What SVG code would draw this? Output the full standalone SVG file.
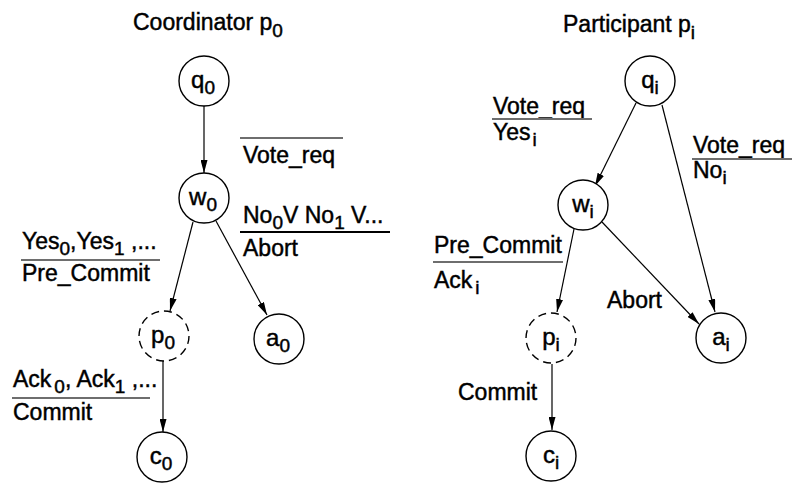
<svg xmlns="http://www.w3.org/2000/svg" width="792" height="485" viewBox="0 0 792 485">
  <style>
    text { font-family: "Liberation Sans", Arial, sans-serif; font-size: 23px; fill: #000; stroke: #000; stroke-width: 0.45; }
    .sub { font-size: 19px; }
    .node circle { fill: #fff; stroke: #000; stroke-width: 1.4; }
    .node.dashed circle { stroke-dasharray: 8 5; }
    .node text { text-anchor: middle; font-size: 24px; }
    .edge { stroke: #000; stroke-width: 1.2; fill: none; marker-end: url(#arrow); }
    .bar { stroke: #6e6e6e; stroke-width: 2; }
    .bar.dark { stroke: #000; }
  </style>
  <defs>
    <marker id="arrow" viewBox="0 0 13 7" refX="13" refY="3.5" markerWidth="13" markerHeight="7" markerUnits="userSpaceOnUse" orient="auto">
      <path d="M0,0 L13,3.5 L0,7 Z" fill="#000"/>
    </marker>
  </defs>

  <!-- titles -->
  <text x="133" y="30">Coordinator p<tspan class="sub" dy="7">0</tspan></text>
  <text x="563" y="32">Participant p<tspan class="sub" dy="7">i</tspan></text>

  <!-- transitions -->
  <g id="connectors">
    <line class="edge" x1="204" y1="105" x2="204" y2="173"/>
    <line class="edge" x1="193" y1="222" x2="170" y2="311"/>
    <line class="edge" x1="216" y1="221" x2="267" y2="315"/>
    <line class="edge" x1="163" y1="361" x2="163" y2="432"/>
    <line class="edge" x1="636" y1="103" x2="595" y2="186"/>
    <line class="edge" x1="662" y1="105" x2="715" y2="312"/>
    <line class="edge" x1="574" y1="229" x2="557" y2="312"/>
    <line class="edge" x1="602" y1="222" x2="699" y2="324"/>
    <line class="edge" x1="552" y1="364" x2="552" y2="430"/>
  </g>

  <!-- transition labels: input over output -->
  <g id="labels">
    <line class="bar" x1="240" y1="138" x2="343" y2="138"/>
    <text x="243" y="163">Vote_req</text>

    <text x="243" y="223">No<tspan class="sub" dy="6">0</tspan><tspan dy="-6">V No</tspan><tspan class="sub" dy="6">1</tspan><tspan dy="-6"> V...</tspan></text>
    <line class="bar dark" x1="240" y1="232" x2="390" y2="232"/>
    <text x="243" y="256">Abort</text>

    <text x="22" y="249">Yes<tspan class="sub" dy="6">0</tspan><tspan dy="-6">,Yes</tspan><tspan class="sub" dy="6">1</tspan><tspan dy="-6"> ,...</tspan></text>
    <line class="bar" x1="21" y1="260" x2="160" y2="260"/>
    <text x="22" y="281">Pre_Commit</text>

    <text x="13" y="387">Ack<tspan class="sub" dx="3" dy="6">0</tspan><tspan dy="-6">, Ack</tspan><tspan class="sub" dy="6">1</tspan><tspan dy="-6"> ,...</tspan></text>
    <line class="bar" x1="12" y1="398" x2="150" y2="398"/>
    <text x="13" y="420">Commit</text>

    <text x="493" y="114">Vote_req</text>
    <line class="bar" x1="492" y1="119" x2="592" y2="119"/>
    <text x="493" y="140">Yes<tspan class="sub" dx="2" dy="6">i</tspan></text>

    <text x="693" y="153">Vote_req</text>
    <line class="bar" x1="692" y1="159" x2="792" y2="159"/>
    <text x="693" y="178">No<tspan class="sub" dy="6">i</tspan></text>

    <text x="434" y="253">Pre_Commit</text>
    <line class="bar" x1="433" y1="262" x2="563" y2="262"/>
    <text x="434" y="288">Ack<tspan class="sub" dx="3" dy="6">i</tspan></text>

    <text x="607" y="308">Abort</text>
    <text x="458" y="400">Commit</text>
  </g>

  <!-- coordinator states -->
  <g id="q0" class="node"><circle cx="204" cy="81" r="25"/><text x="203" y="88">q<tspan class="sub" dy="6">0</tspan></text></g>
  <g id="w0" class="node"><circle cx="204" cy="198" r="25"/><text x="203" y="205">w<tspan class="sub" dy="6">0</tspan></text></g>
  <g id="p0" class="node dashed"><circle cx="164" cy="336" r="25"/><text x="163" y="343">p<tspan class="sub" dy="6">0</tspan></text></g>
  <g id="a0" class="node"><circle cx="279" cy="339" r="25"/><text x="278" y="346">a<tspan class="sub" dy="6">0</tspan></text></g>
  <g id="c0" class="node"><circle cx="162" cy="457" r="25"/><text x="161" y="464">c<tspan class="sub" dy="6">0</tspan></text></g>

  <!-- participant states -->
  <g id="qi" class="node"><circle cx="650" cy="81" r="25"/><text x="650" y="88">q<tspan class="sub" dy="6">i</tspan></text></g>
  <g id="wi" class="node"><circle cx="583" cy="205" r="25"/><text x="583" y="212">w<tspan class="sub" dy="6">i</tspan></text></g>
  <g id="pi" class="node dashed"><circle cx="551" cy="338" r="25"/><text x="551" y="345">p<tspan class="sub" dy="6">i</tspan></text></g>
  <g id="ai" class="node"><circle cx="721" cy="338" r="25"/><text x="721" y="345">a<tspan class="sub" dy="6">i</tspan></text></g>
  <g id="ci" class="node"><circle cx="551" cy="456" r="25"/><text x="551" y="463">c<tspan class="sub" dy="6">i</tspan></text></g>
</svg>
